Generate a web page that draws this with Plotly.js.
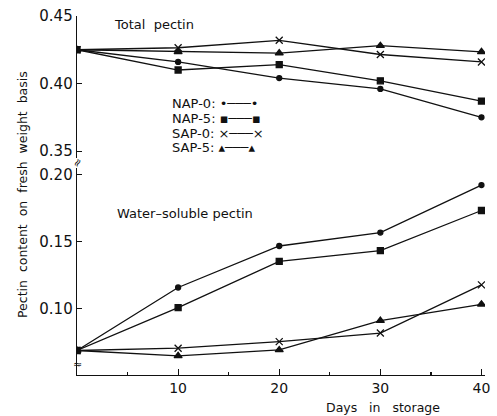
<!DOCTYPE html>
<html>
<head>
<meta charset="utf-8">
<script src="https://cdn.plot.ly/plotly-3.0.1.min.js"></script>
<style>html,body{margin:0;padding:0;background:#fff;}#chart{width:497px;height:416px;}</style>
</head>
<body>
<div id="chart"></div>
<script>
// Days in storage
var days = [0, 10, 20, 30, 40];
var xTickVals = [10, 20, 30, 40];

// Total pectin (% fresh weight)
var totalNAP0 = [0.425, 0.416, 0.404, 0.396, 0.375];
var totalNAP5 = [0.425, 0.410, 0.414, 0.402, 0.387];
var totalSAP0 = [0.425, 0.4265, 0.432, 0.4215, 0.416];
var totalSAP5 = [0.425, 0.4235, 0.4225, 0.428, 0.4235];

// Water-soluble pectin (% fresh weight)
var wsNAP0 = [0.069, 0.116, 0.147, 0.157, 0.1925];
var wsNAP5 = [0.069, 0.101, 0.1355, 0.1435, 0.1735];
var wsSAP0 = [0.069, 0.0707, 0.0756, 0.082, 0.118];
var wsSAP5 = [0.069, 0.065, 0.0694, 0.0913, 0.1035];

var seriesNames = ['NAP-0', 'NAP-5', 'SAP-0', 'SAP-5'];
var totalTickVals = [0.35, 0.40, 0.45];
var wsTickVals = [0.10, 0.15, 0.20];

var FONT = 'DejaVu Sans, Verdana, sans-serif';
var styles = [
  {symbol: 'circle', size: 5},
  {symbol: 'square', size: 6},
  {symbol: 'x-thin-open', size: 7},
  {symbol: 'triangle-up', size: 7}
];
var totals = [totalNAP0, totalNAP5, totalSAP0, totalSAP5];
var ws = [wsNAP0, wsNAP5, wsSAP0, wsSAP5];

var traces = [];
for (var i = 0; i < 4; i++) {
  var mk = {symbol: styles[i].symbol, size: styles[i].size, color: '#111',
            line: {color: '#111', width: 1.3}};
  traces.push({x: days, y: totals[i], xaxis: 'x', yaxis: 'y2', mode: 'lines+markers',
    name: seriesNames[i] + ' (total)', showlegend: false,
    line: {color: '#111', width: 1.3}, marker: mk});
  traces.push({x: days, y: ws[i], xaxis: 'x', yaxis: 'y', mode: 'lines+markers',
    name: seriesNames[i] + ' (water-soluble)', showlegend: false,
    line: {color: '#111', width: 1.3}, marker: mk});
}

var keyGlyphs = ['\u2022\u2500\u2500\u2500\u2022', '\u25AA\u2500\u2500\u2500\u25AA',
                 '\u00D7\u2500\u2500\u2500\u00D7', '\u25B4\u2500\u2500\u2500\u25B4'];
var keyY = [0.755, 0.7145, 0.674, 0.6337];

var annotations = [
  {text: 'Total\u00a0\u00a0pectin', xref: 'paper', yref: 'paper', x: 0.086, y: 0.975,
   xanchor: 'left', yanchor: 'middle', showarrow: false, font: {family: FONT, size: 13, color: '#111'}},
  {text: 'Water\u2013soluble\u00a0pectin', xref: 'paper', yref: 'paper', x: 0.093, y: 0.451,
   xanchor: 'left', yanchor: 'middle', showarrow: false, font: {family: FONT, size: 13, color: '#111'}},
  {text: 'Pectin\u00a0\u00a0content\u00a0\u00a0on\u00a0\u00a0fresh\u00a0\u00a0weight\u00a0\u00a0basis', xref: 'paper', yref: 'paper',
   x: -0.135, y: 0.504, textangle: -90, xanchor: 'center', yanchor: 'middle', showarrow: false,
   font: {family: FONT, size: 12.5, color: '#111'}},
  {text: 'Days\u00a0\u00a0\u00a0in\u00a0\u00a0\u00a0storage', xref: 'paper', yref: 'paper', x: 0.75, y: -0.09,
   xanchor: 'center', yanchor: 'middle', showarrow: false, font: {family: FONT, size: 12.5, color: '#111'}},
  {text: '\u2248', xref: 'paper', yref: 'paper', x: 0, y: 0.59, textangle: -60,
   xanchor: 'center', yanchor: 'middle', showarrow: false, font: {family: FONT, size: 11, color: '#111'}},
  {text: '\u2248', xref: 'paper', yref: 'paper', x: 0, y: 0.03, textangle: 0,
   xanchor: 'center', yanchor: 'middle', showarrow: false, font: {family: FONT, size: 11, color: '#111'}}
];
for (var k = 0; k < 4; k++) {
  annotations.push({text: seriesNames[k] + ':\u00a0' + keyGlyphs[k], xref: 'paper', yref: 'paper',
    x: 0.228, y: keyY[k], xanchor: 'left', yanchor: 'middle', showarrow: false,
    font: {family: FONT, size: 13, color: '#111'}});
}

var layout = {
  width: 497, height: 416,
  margin: {l: 77, r: 12, t: 16, b: 41},
  paper_bgcolor: '#fff', plot_bgcolor: '#fff',
  showlegend: false,
  font: {family: FONT, color: '#111'},
  xaxis: {range: [0, 40.35], tickvals: xTickVals, ticks: 'inside', ticklen: 6, tickwidth: 1.2,
    tickcolor: '#111', showline: true, linecolor: '#111', linewidth: 1.3, showgrid: false,
    zeroline: false, anchor: 'y', tickfont: {family: FONT, size: 14, color: '#111'},
    minor: {dtick: 5, tick0: 0, ticks: 'inside', ticklen: 3, tickcolor: '#111', showgrid: false}},
  yaxis: {domain: [0, 0.5758], range: [0.0507, 0.205], tickvals: wsTickVals, tickformat: '.2f',
    ticks: 'inside', ticklen: 5, tickcolor: '#111', showline: true, linecolor: '#111', linewidth: 1.3,
    showgrid: false, zeroline: false, tickfont: {family: FONT, size: 15, color: '#111'}},
  yaxis2: {domain: [0.605, 1], range: [0.345, 0.45], tickvals: totalTickVals, tickformat: '.2f',
    ticks: 'inside', ticklen: 5, tickcolor: '#111', showline: true, linecolor: '#111', linewidth: 1.3,
    showgrid: false, zeroline: false, anchor: 'x', tickfont: {family: FONT, size: 15, color: '#111'}},
  annotations: annotations
};

Plotly.newPlot('chart', traces, layout, {displayModeBar: false, staticPlot: true});
</script>
</body>
</html>
